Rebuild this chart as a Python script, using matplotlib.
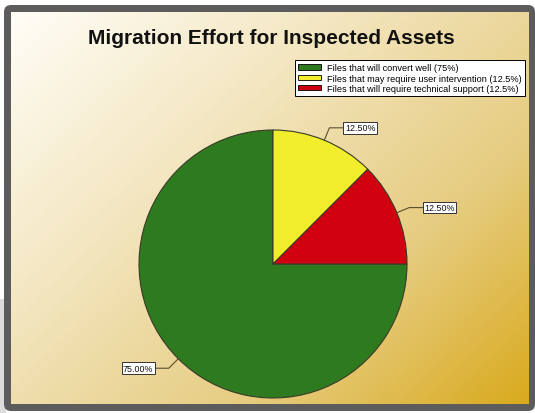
import numpy as np
import matplotlib
matplotlib.use('Agg')
import matplotlib.pyplot as plt
from matplotlib.patches import Patch, Rectangle, FancyBboxPatch
from matplotlib.colors import LinearSegmentedColormap

plt.rcParams['font.family'] = ['Liberation Sans', 'DejaVu Sans']

title = 'Migration Effort for Inspected Assets'
categories = ['Files that will convert well (75%)',
              'Files that may require user intervention (12.5%)',
              'Files that will require technical support (12.5%)']
shares = [75.0, 12.5, 12.5]
colors = ['#2E7A1F', '#F2EE2C', '#D0020F']

W, H = 535, 414
fig = plt.figure(figsize=(W / 100, H / 100), dpi=100)

# background: grey frame + diagonal cream-to-gold gradient (pixel coords)
bg = fig.add_axes([0, 0, 1, 1])
bg.set_xlim(0, W)
bg.set_ylim(H, 0)
bg.axis('off')
bg.add_patch(Rectangle((0, 300), 6, 114, color='#dcdcdc', lw=0))
bg.add_patch(FancyBboxPatch((4, 6), 531, 406, boxstyle='round,pad=0,rounding_size=7',
                            fc='#5c5c5c', ec='none'))
yy, xx = np.mgrid[0:1:200j, 0:1:200j]
t = (xx * 0.55 + yy * 0.45)
grad = LinearSegmentedColormap.from_list('g', [(0.0, '#fffdf6'), (0.35, '#f3e6c0'),
                                               (0.7, '#e6cc80'), (1.0, '#d9aa1e')])
bg.imshow(t, cmap=grad, extent=(11, 529, 405, 13), aspect='auto', zorder=2,
          interpolation='bilinear', vmin=0, vmax=1)

fig.text(271 / W, 1 - 38 / H, title, ha='center', va='center',
         fontsize=15, fontweight='bold', color='#111111')

# pie
cx, cy, r = 273, 265, 134
ax = fig.add_axes([(cx - r) / W, (H - cy - r) / H, 2 * r / W, 2 * r / H])
ax.axis('off')
wedges, _ = ax.pie(shares, colors=colors, startangle=0, counterclock=False, radius=1,
                   wedgeprops=dict(edgecolor='#3a3a2a', linewidth=0.8))
ax.set_xlim(-1, 1)
ax.set_ylim(-1, 1)

for w, v in zip(wedges, shares):
    ang = np.deg2rad((w.theta1 + w.theta2) / 2)
    ex, ey = np.cos(ang), np.sin(ang)
    kx, ky = 1.1 * ex, 1.1 * ey
    side = 1 if ex >= 0 else -1
    tx = kx + side * 0.1
    ax.plot([ex, kx, tx], [ey, ky, ky], color='#5a4e2e', lw=0.8, clip_on=False)
    ax.text(tx + side * 0.015, ky, f'{v:.2f}%', ha='left' if side > 0 else 'right',
            va='center', fontsize=6.4, color='#111111', clip_on=False,
            bbox=dict(boxstyle='square,pad=0.15', fc='white', ec='#333333', lw=0.7))

handles = [Patch(facecolor=c, edgecolor='black', linewidth=0.6) for c in colors]
leg = fig.legend(handles, categories, loc='upper right',
                 bbox_to_anchor=(525 / W, 1 - 61 / H), fontsize=6.6, frameon=True,
                 fancybox=False, edgecolor='black', framealpha=1, borderpad=0.35,
                 labelspacing=0.15, handlelength=2.5, handleheight=0.5,
                 handletextpad=0.65, borderaxespad=0)
leg.get_frame().set_linewidth(0.7)

fig.savefig('out.png', dpi=100)
